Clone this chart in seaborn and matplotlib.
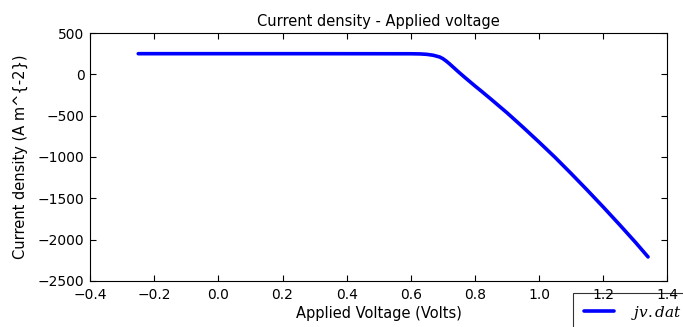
import matplotlib
matplotlib.use("Agg")
import matplotlib.pyplot as plt
import seaborn as sns
import pandas as pd

voltage = [-0.25, 0.0, 0.3, 0.6, 0.63, 0.65, 0.67, 0.69, 0.70, 0.71, 0.72, 0.73,
           0.74, 0.75, 0.77, 0.80, 0.82, 0.85, 0.90, 0.95, 1.00, 1.05, 1.10,
           1.15, 1.20, 1.25, 1.30, 1.34]
current = [250, 250, 250, 249, 247, 242, 231, 210, 190, 162, 130, 95,
           60, 25, -42, -140, -203, -300, -465, -640, -820, -1005, -1200,
           -1400, -1605, -1815, -2030, -2210]
series_label = "$jv.dat$"
xticks = [-0.4, -0.2, 0.0, 0.2, 0.4, 0.6, 0.8, 1.0, 1.2, 1.4]
yticks = [500, 0, -500, -1000, -1500, -2000, -2500]

sns.set_style("ticks", {"xtick.direction": "in", "ytick.direction": "in",
                        "axes.edgecolor": "black", "text.color": "black",
                        "axes.labelcolor": "black", "xtick.color": "black",
                        "ytick.color": "black"})
plt.rcParams["font.family"] = ["DejaVu Sans"]
plt.rcParams["mathtext.fontset"] = "dejavuserif"

df = pd.DataFrame({"V": voltage, "J": current})

fig = plt.figure(figsize=(6.83, 3.27), dpi=100)
ax = fig.add_axes([0.132, 0.141, 0.845, 0.758])
sns.lineplot(data=df, x="V", y="J", ax=ax, color="#0000ff", linewidth=2.6,
             label=series_label, sort=False)

ax.set_xlim(-0.4, 1.4)
ax.set_ylim(-2500, 500)
ax.set_xticks(xticks)
ax.set_yticks(yticks)
ax.set_xticklabels([f"{t:.1f}".replace("-", "\u2212") for t in xticks], fontsize=10)
ax.set_yticklabels([str(t).replace("-", "\u2212") for t in yticks], fontsize=10)
ax.tick_params(top=True, right=True, direction="in", length=4, width=0.8)
ax.tick_params(axis="x", pad=5)
ax.tick_params(axis="y", pad=4)
for s in ax.spines.values():
    s.set_linewidth(0.8)
ax.set_title("Current density - Applied voltage", fontsize=10.5, pad=5)
ax.set_xlabel("Applied Voltage (Volts)", fontsize=10.5, labelpad=3)
ax.set_ylabel("Current density (A m^{-2})", fontsize=10.5, labelpad=7)

handles, labels = ax.get_legend_handles_labels()
ax.get_legend().remove()
leg = fig.legend(handles, labels, loc="upper left",
                 bbox_to_anchor=(573 / 683, 1 - 293 / 327),
                 borderaxespad=0, fontsize=11, frameon=True, fancybox=False,
                 handlelength=2.0, handletextpad=1.1, borderpad=0.7)
leg.get_frame().set_edgecolor("black")
leg.get_frame().set_linewidth(0.8)
leg.set_zorder(-1)

fig.savefig("out.png", dpi=100)
